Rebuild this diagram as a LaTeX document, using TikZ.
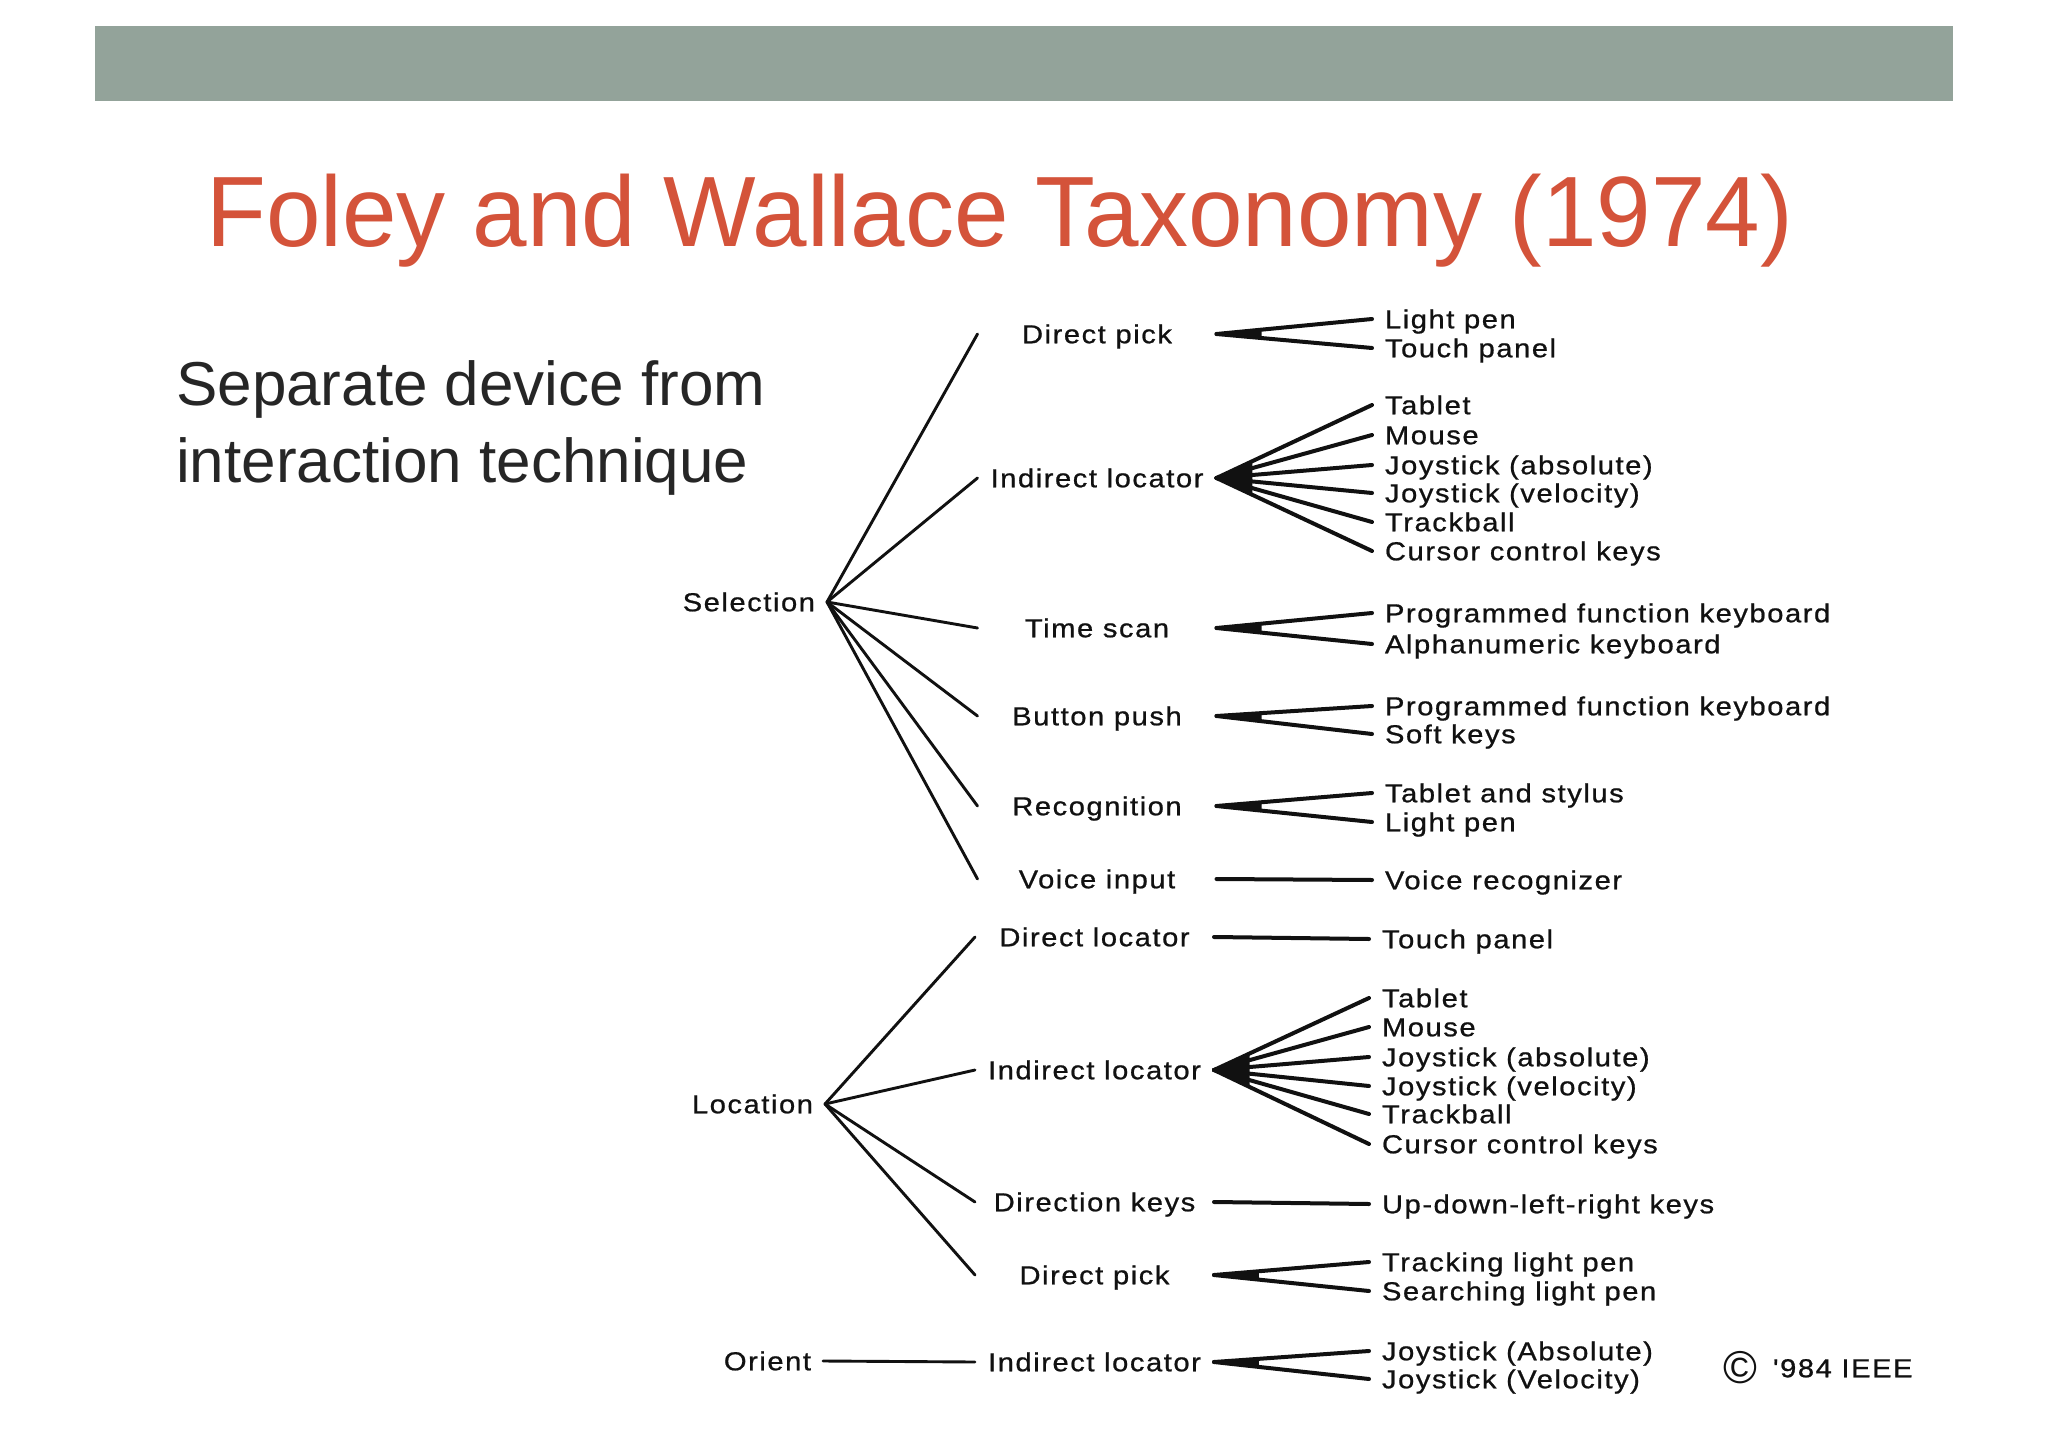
\documentclass[tikz,border=0pt]{standalone}
\usepackage{fontspec}
\setmainfont{Liberation Sans}
\newfontfamily\diafont[FakeStretch=1.12,LetterSpace=6,FakeBold=0.8]{Liberation Sans}
\newfontfamily\titlefont[FakeStretch=0.98]{Liberation Sans}
\usetikzlibrary{calc}
\definecolor{banner}{RGB}{147,163,154}
\definecolor{titlered}{RGB}{212,83,58}
\definecolor{subgray}{RGB}{38,38,38}
\definecolor{ink}{RGB}{17,17,17}
\begin{document}
\begin{tikzpicture}[x=1pt,y=-1pt,
  dtext/.style={font=\diafont\fontsize{26}{30}\selectfont, text=ink, inner ysep=0pt, outer sep=0pt, text height=18.5pt, text depth=0pt},
  lone/.style={dtext, anchor=east, inner xsep=12pt},
  ltwo/.style={dtext, minimum width=239pt, inner xsep=0pt, align=center},
  leaf/.style={dtext, anchor=west, inner xsep=13pt},
  conA/.style={draw=ink, line width=2.9pt, line cap=round},
  conB/.style={draw=ink, line width=4pt, line cap=round},
  wedge/.style={fill=ink}]
\useasboundingbox (0,0) rectangle (2048,1447);
\fill[white] (0,0) rectangle (2048,1447);
% banner
\fill[banner] (95,26) rectangle (1953,101);
% title and subtitle
\node[anchor=base west, font=\titlefont\fontsize{100}{110}\selectfont, text=titlered, inner sep=0pt] (title) at (206,247) {Foley and Wallace Taxonomy (1974)};
\node[anchor=base west, font=\fontsize{62}{77}\selectfont, text=subgray, inner sep=0pt] (sub1) at (176,405) {Separate device from};
\node[anchor=base west, font=\fontsize{62}{77}\selectfont, text=subgray, inner sep=0pt] (sub2) at (176,482) {interaction technique};

% level 1
\node[lone] (sel) at (827,602) {Selection};
\node[lone] (loc) at (825,1104) {Location};
\node[lone] (ori) at (823,1361) {Orient};

% level 2
\node[ltwo] (s1) at (1097,334) {Direct pick};
\node[ltwo] (s2) at (1097,478) {Indirect locator};
\node[ltwo] (s3) at (1097,628) {Time scan};
\node[ltwo] (s4) at (1097,716) {Button push};
\node[ltwo] (s5) at (1097,806) {Recognition};
\node[ltwo] (s6) at (1097,879) {Voice input};
\node[ltwo] (l1) at (1094.5,937) {Direct locator};
\node[ltwo] (l2) at (1094.5,1070) {Indirect locator};
\node[ltwo] (l3) at (1094.5,1202) {Direction keys};
\node[ltwo] (l4) at (1094.5,1275) {Direct pick};
\node[ltwo] (o1) at (1094.5,1362) {Indirect locator};

% leaves
\node[leaf] (a1) at (1372,319) {Light pen};
\node[leaf] (a2) at (1372,348) {Touch panel};
\node[leaf] (b1) at (1372,405) {Tablet};
\node[leaf] (b2) at (1372,435) {Mouse};
\node[leaf] (b3) at (1372,465) {Joystick (absolute)};
\node[leaf] (b4) at (1372,493) {Joystick (velocity)};
\node[leaf] (b5) at (1372,522) {Trackball};
\node[leaf] (b6) at (1372,551) {Cursor control keys};
\node[leaf] (c1) at (1372,613) {Programmed function keyboard};
\node[leaf] (c2) at (1372,644) {Alphanumeric keyboard};
\node[leaf] (d1) at (1372,706) {Programmed function keyboard};
\node[leaf] (d2) at (1372,734) {Soft keys};
\node[leaf] (e1) at (1372,793) {Tablet and stylus};
\node[leaf] (e2) at (1372,822) {Light pen};
\node[leaf] (f1) at (1372,880) {Voice recognizer};
\node[leaf] (g1) at (1369,939) {Touch panel};
\node[leaf] (h1) at (1369,998) {Tablet};
\node[leaf] (h2) at (1369,1027) {Mouse};
\node[leaf] (h3) at (1369,1057) {Joystick (absolute)};
\node[leaf] (h4) at (1369,1086) {Joystick (velocity)};
\node[leaf] (h5) at (1369,1114) {Trackball};
\node[leaf] (h6) at (1369,1144) {Cursor control keys};
\node[leaf] (i1) at (1369,1204) {Up-down-left-right keys};
\node[leaf] (j1) at (1369,1262) {Tracking light pen};
\node[leaf] (j2) at (1369,1291) {Searching light pen};
\node[leaf] (k1) at (1369,1351) {Joystick (Absolute)};
\node[leaf] (k2) at (1369,1379) {Joystick (Velocity)};

% copyright
\node[font=\fontsize{46}{50}\selectfont, text=ink, inner sep=0pt] (copy) at (1740,1368) {©};
\node[dtext, anchor=west, inner xsep=0pt] (ieee) at (1773,1368) {'984 IEEE};

% level 1 -> level 2
\foreach \p/\c in {sel/s1, sel/s2, sel/s3, sel/s4, sel/s5, sel/s6, loc/l1, loc/l2, loc/l3, loc/l4, ori/o1}
  \draw[conA] (\p.east) -- (\c.west);

% level 2 -> leaves
\foreach \p/\c in {s1/a1, s1/a2, s2/b1, s2/b2, s2/b3, s2/b4, s2/b5, s2/b6, s3/c1, s3/c2, s4/d1, s4/d2, s5/e1, s5/e2, s6/f1,
                   l1/g1, l2/h1, l2/h2, l2/h3, l2/h4, l2/h5, l2/h6, l3/i1, l4/j1, l4/j2, o1/k1, o1/k2}
  \draw[conB] (\p.east) -- (\c.west);

% solid wedges at the fan roots
\foreach \p/\u/\v/\f in {s1/a1/a2/0.29, s2/b1/b6/0.23, s3/c1/c2/0.29, s4/d1/d2/0.29, s5/e1/e2/0.29,
                         l2/h1/h6/0.23, l4/j1/j2/0.29, o1/k1/k2/0.29}
  \fill[wedge] (\p.east) -- ($(\p.east)!\f!(\u.west)$) -- ($(\p.east)!\f!(\v.west)$) -- cycle;
\end{tikzpicture}
\end{document}
